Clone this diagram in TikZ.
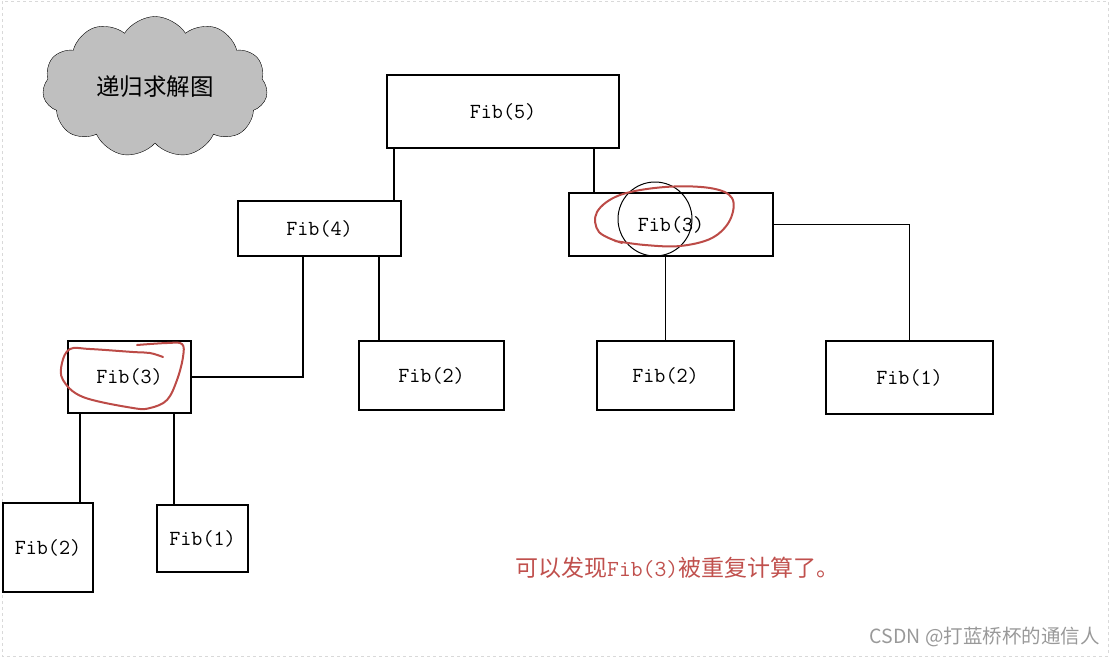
\documentclass[tikz,border=0pt]{standalone}
\usepackage{fontspec}
\newfontfamily\cjk{Noto Sans CJK SC}
\usetikzlibrary{shapes.symbols}
\definecolor{loopred}{HTML}{BC4B47}
\definecolor{notered}{HTML}{C0504D}
\begin{document}
\begin{tikzpicture}[x=1pt,y=-1pt,
    fibbox/.style ={rectangle, draw, line width=1.1pt, inner sep=0pt,
      font=\fontsize{21.5}{24}\selectfont\ttfamily},
    link/.style ={line width=1.1pt},
    ring/.style ={loopred, line width=2pt, line cap=round, line join=round}]
   \useasboundingbox (0,0) rectangle (1114,657);
   \draw[black!15, dashed] (2,1) rectangle (1108,656);

   % title cloud
   \node[cloud, cloud puffs=11, cloud puff arc=115, cloud ignores aspect, draw, fill=black!25,
     minimum width=225, minimum height=141, inner sep=0pt,
     font=\fontsize{23.5}{26}\cjk] (title) at (155,87) {递归求解图};

   % call tree
   \node[fibbox, minimum width=232, minimum height=73] (F5) at (503,111.5) {Fib(5)};
   \node[fibbox, minimum width=163, minimum height=55] (F4) at (319.5,228.5) {Fib(4)};
   \node[fibbox, minimum width=204, minimum height=63] (F3r) at (671,224.5) {Fib(3)};
   \node[fibbox, minimum width=123, minimum height=72] (F3l) at (129.5,377) {Fib(3)};
   \node[fibbox, minimum width=145, minimum height=69] (F2m) at (431.5,375.5) {Fib(2)};
   \node[fibbox, minimum width=137, minimum height=69] (F2r) at (665.5,375.5) {Fib(2)};
   \node[fibbox, minimum width=167, minimum height=73] (F1r) at (909.5,377.5) {Fib(1)};
   \node[fibbox, minimum width=90, minimum height=89] (F2b) at (48,547.5) {Fib(2)};
   \node[fibbox, minimum width=91, minimum height=67] (F1b) at (202.5,538.5) {Fib(1)};

   \draw[link] (F5.south -| 394,0) to (F4.north -| 394,0);
   \draw[link] (F5.south -| 594,0) to (F3r.north -| 594,0);
   \draw[link] (F4.south -| 303,0) |- (F3l.east);
   \draw[link] (F4.south -| 379,0) to (F2m.north -| 379,0);
   \draw[link] (F3r.south -| F2r.north) to (F2r.north);
   \draw[link] (F3r.east) -| (F1r.north);
   \draw[link] (F3l.south -| 80,0) to (F2b.north -| 80,0);
   \draw[link] (F3l.south -| 174,0) to (F1b.north -| 174,0);

   % marks on the repeated call
   \node[circle, draw, line width=1pt, minimum size=74, inner sep=0pt] (mark) at (655,219) {};
   \draw[ring] plot[smooth, tension=0.6] coordinates {(622,243) (599,232) (597,212)
     (620,195) (665,187) (710,188) (732,198) (730,220) (712,238) (680,246)
     (645,245) (615,241)};
   \draw[ring] plot[smooth, tension=0.6] coordinates {(163,357) (150,353) (133,352)
     (90,349) (70,349) (62,363) (63,380) (83,397) (133,408) (150,408) (167,400)
     (177,380) (183,357) (182,344) (167,343) (137,345)};

   \node[notered, font=\fontsize{23}{26}\cjk, anchor=west, inner sep=0pt] (note) at (515,568)
     {可以发现{\ttfamily Fib(3)}被重复计算了。};
   \node[black!40, font=\fontsize{19.5}{22}\cjk, anchor=east, inner sep=0pt] (mark2) at (1100,637)
     {CSDN @打蓝桥杯的通信人};
 \end{tikzpicture}
\end{document}
